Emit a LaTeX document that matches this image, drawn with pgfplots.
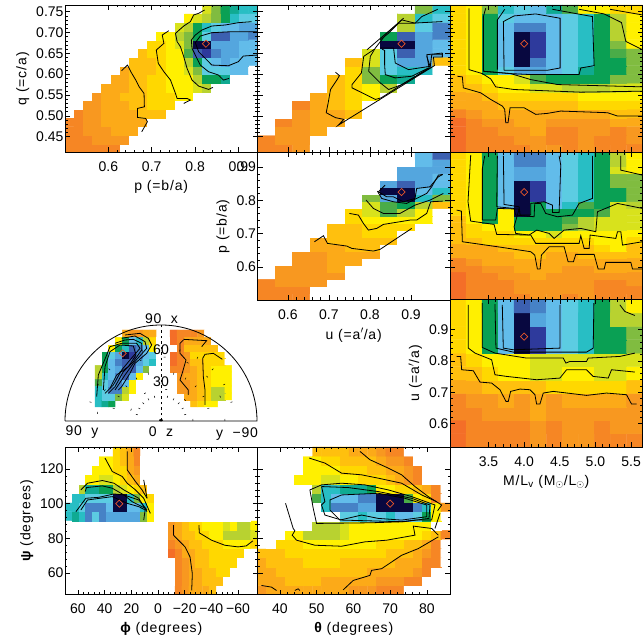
\documentclass[border=0pt]{standalone}
\usepackage{pgfplots}
\usepackage{fontspec}
\setmainfont{Liberation Sans}
\pgfplotsset{compat=1.18}
\newcommand\lbl{\fontsize{14}{15}\selectfont}
\newcommand\lab{\fontsize{14}{15}\selectfont\addfontfeature{LetterSpace=6}}
\pgfplotsset{
 colormap={sv}{rgb255=(255,255,255) rgb255=(8,8,64) rgb255=(46,58,156) rgb255=(60,96,176) rgb255=(70,130,198) rgb255=(84,166,222) rgb255=(98,188,234) rgb255=(92,204,226) rgb255=(40,190,196) rgb255=(16,170,146) rgb255=(10,160,84) rgb255=(74,172,72) rgb255=(128,188,64) rgb255=(184,210,48) rgb255=(216,226,28) rgb255=(255,240,0) rgb255=(255,216,0) rgb255=(255,192,14) rgb255=(252,170,24) rgb255=(248,152,32) rgb255=(246,134,36) rgb255=(244,110,40)},
 zm/.style n args={8}{x filter/.expression={#3+(x-#1)*(#4-#3)/(#2-#1)},y filter/.expression={#7+(y-#5)*(#8-#7)/(#6-#5)}},
 pan/.style={scale only axis,width=192.5pt,height=147.5pt,anchor=south west,enlargelimits=false,axis on top,
  colormap name=sv,point meta min=0,point meta max=21,tick align=inside,major tick length=5pt,minor tick length=2.5pt,
  axis line style={line width=.9pt},tick style={black,line width=.5pt},
  tick label style={font=\lbl},label style={font=\lab},minor x tick num=4,minor y tick num=4,
  xticklabel shift=6pt,yticklabel shift=-2pt,xlabel shift=2pt,
  /pgf/number format/.cd,fixed,fixed zerofill,precision=1,assume math mode=true},
 dia/.style={only marks,forget plot,mark=diamond,mark size=3.6pt,color={rgb,255:red,232;green,86;blue,42},mark options={xscale=1.33,line width=.7pt}}
}
\newcommand\heat[6]{%
 \def\tmpT{c\\}%
 \pgfplotsforeachungrouped \v in {#6}{\edef\tmpT{\unexpanded\expandafter{\tmpT}\v\noexpand\\}}%
 \edef\next{\noexpand\addplot[matrix plot*,mesh/cols=#1,point meta=explicit,forget plot] table[row sep=crcr,meta=c,x expr={#2+#3*mod(\noexpand\coordindex,#1)},y expr={#4+#5*floor((\noexpand\coordindex+0.5)/#1)}] {\unexpanded\expandafter{\tmpT}};}\next}
\newcommand\cont[1]{\addplot[cl,forget plot] coordinates {#1};}
\begin{document}
\begin{tikzpicture}
\useasboundingbox (0,0) rectangle (644pt,639pt);
% A
\begin{axis}[pan,at={(65pt,486.5pt)},xmin=0.5,xmax=0.944,ymin=0.412,ymax=0.766,xtick={0.6,0.7,0.8,0.9},ytick={0.45,0.5,0.55,0.6,0.65,0.7,0.75},
 yticklabel style={/pgf/number format/precision=2},xlabel={p (=b/a)},ylabel={q (=c/a)},
 cl/.style={black,line width=.8pt,zm={196}{778}{0.5}{0.944}{457}{15}{0.412}{0.766}}]
\heat{21}{0.5106}{0.02114}{0.4224}{0.02082}{
20,20,20,20,20,20,0,0,0,0,0,0,0,0,0,0,0,0,0,0,0,
20,20,20,19,19,19,19,0,0,0,0,0,0,0,0,0,0,0,0,0,0,
20,20,19,19,19,18,18,18,0,0,0,0,0,0,0,0,0,0,0,0,0,
20,20,19,19,18,18,18,18,18,0,0,0,0,0,0,0,0,0,0,0,0,
0,20,19,19,18,18,18,18,17,17,17,0,0,0,0,0,0,0,0,0,0,
0,0,19,19,18,18,18,17,17,16,16,16,0,0,0,0,0,0,0,0,0,
0,0,0,19,18,18,17,17,17,16,16,16,15,15,0,0,0,0,0,0,0,
0,0,0,0,18,18,18,17,17,16,16,15,15,15,14,13,0,0,0,0,0,
0,0,0,0,0,18,18,17,17,16,16,15,15,15,13,10,10,9,0,0,0,
0,0,0,0,0,0,18,17,17,17,16,15,15,14,12,7,7,7,6,6,0,
0,0,0,0,0,0,0,17,17,17,16,15,15,13,10,7,6,5,6,6,6,
0,0,0,0,0,0,0,0,17,16,16,15,15,11,3,2,4,5,5,6,6,
0,0,0,0,0,0,0,0,0,16,16,15,14,12,1,1,5,5,5,6,6,
0,0,0,0,0,0,0,0,0,0,15,15,13,12,10,7,3,3,5,5,4,
0,0,0,0,0,0,0,0,0,0,0,0,14,13,10,8,7,6,6,5,5,
0,0,0,0,0,0,0,0,0,0,0,0,0,15,14,13,12,10,8,7,7,
0,0,0,0,0,0,0,0,0,0,0,0,0,0,0,14,12,10,9,8,8}
\cont{(367,212)(385,195)(395,215)(410,240)(420,260)(435,280)(436,320)(415,325)(415,352)(440,355)(445,365)(428,395)}
\cont{(510,92)(490,105)(495,130)(472,150)(478,190)(495,215)(515,240)(530,280)(535,295)(565,295)(575,300)(555,310)}
\cont{(618,30)(600,40)(585,45)(575,65)(555,78)(530,100)(535,125)(545,140)(555,170)(565,205)(580,240)(600,258)(630,268)(643,262)}
\cont{(760,65)(720,68)(680,75)(640,78)(610,90)(590,105)(578,120)(580,145)(590,165)(605,195)(630,215)(660,225)(675,240)(692,235)}
\cont{(778,95)(700,95)(640,98)(605,108)(590,128)(600,155)(625,180)(640,195)(690,197)(720,185)(735,168)(778,165)}
\addplot[dia] coordinates {(0.825,0.673)};
\end{axis}
% B
\begin{axis}[pan,at={(257.5pt,486.5pt)},xmin=0.526,xmax=0.995,ymin=0.412,ymax=0.766,xtick={0.6,0.7,0.8,0.9},ytick={0.45,0.5,0.55,0.6,0.65,0.7,0.75},
 xticklabels={},yticklabels={},
 cl/.style={black,line width=.8pt,zm={5}{585}{0.526}{0.995}{460}{15}{0.412}{0.766}}]
\heat{11}{0.5473}{0.04264}{0.4224}{0.02082}{
20,20,19,0,0,0,0,0,0,0,0,
20,19,19,0,0,0,0,0,0,0,0,
0,19,19,18,0,0,0,0,0,0,0,
0,20,19,18,18,0,0,0,0,0,0,
0,0,19,18,18,17,0,0,0,0,0,
0,0,20,18,17,16,0,0,0,0,0,
0,0,0,18,17,16,15,0,0,0,0,
0,0,0,0,17,16,15,13,0,0,0,
0,0,0,0,17,16,12,10,9,0,0,
0,0,0,0,0,16,12,7,8,8,0,
0,0,0,0,0,17,14,7,5,5,17,
0,0,0,0,0,0,14,7,3,5,6,
0,0,0,0,0,0,0,1,1,5,6,
0,0,0,0,0,0,0,10,3,5,4,
0,0,0,0,0,0,0,0,13,7,4,
0,0,0,0,0,0,0,0,13,8,7,
0,0,0,0,0,0,0,0,0,12,8}
\cont{(240,218)(252,228)(245,240)(225,270)(218,310)(212,340)(240,355)(265,360)(248,378)(538,198)(535,172)(562,172)(562,160)}
\cont{(358,148)(325,170)(318,220)(290,255)(290,265)(320,280)(360,300)(378,295)(440,255)(525,205)(530,165)(562,165)}
\cont{(445,55)(395,100)(360,145)(345,170)(340,215)(375,250)(400,270)(440,255)(522,205)(515,165)(562,160)}
\cont{(335,150)(440,60)(480,70)(500,50)(548,28)}
\cont{(375,120)(400,100)(430,70)(470,70)(562,65)}
\cont{(375,145)(415,145)(420,190)(460,210)(525,200)(515,170)}
\cont{(380,148)(388,152)(388,195)(390,225)(420,235)(470,230)(520,205)}
\addplot[dia] coordinates {(0.877,0.673)};
\end{axis}
% C
\begin{axis}[pan,at={(450pt,486.5pt)},xmin=2.96,xmax=5.66,ymin=0.412,ymax=0.766,xtick={3.5,4,4.5,5,5.5},ytick={0.45,0.5,0.55,0.6,0.65,0.7,0.75},
 xticklabels={},yticklabels={},
 cl/.style={black,line width=.8pt,zm={8}{585}{2.96}{5.66}{460}{15}{0.412}{0.766}}]
\heat{12}{3.0725}{0.225}{0.4224}{0.02082}{21,20,20,20,20,19,19,20,19,20,20,20,
21,20,20,20,19,19,20,20,19,20,20,19,
21,20,20,19,19,18,20,20,19,19,20,19,
21,20,19,19,18,18,19,19,19,19,18,18,
20,19,18,18,18,18,18,18,18,18,17,17,
18,18,18,17,17,17,17,17,16,16,16,16,
18,18,17,16,16,16,16,16,15,15,15,15,
17,17,16,15,15,14,14,13,13,13,14,14,
17,16,15,15,14,11,10,10,10,10,12,12,
16,15,10,7,5,5,6,7,9,10,10,12,
16,15,10,6,1,4,6,7,8,10,10,12,
16,15,10,6,1,2,6,7,8,10,11,12,
16,15,10,6,1,2,6,7,8,10,12,15,
16,15,10,6,1,2,6,7,8,10,13,15,
16,15,10,6,4,4,6,7,8,10,13,15,
16,15,10,7,6,6,6,7,8,10,13,15,
16,15,12,8,7,6,9,11,15,15,16,16}
\cont{(65,25)(65,210)(105,222)(130,238)(145,262)(200,270)(400,278)(585,275)}
\cont{(108,215)(190,222)(250,240)(330,255)(585,262)}
\cont{(30,230)(45,232)(48,265)(100,280)(130,300)(165,320)(172,330)(175,370)(182,370)(188,325)(230,325)(265,345)(300,342)(340,335)(480,340)(510,350)(585,350)}
\cont{(115,25)(108,50)(108,215)(190,222)(250,225)(330,225)(395,225)(400,205)(440,198)(435,50)(315,28)}
\cont{(395,28)(470,42)(522,68)(535,125)(585,150)}
\cont{(488,28)(585,45)}
\cont{(150,210)(150,60)(172,28)}
\cont{(170,212)(168,65)(200,48)(265,42)(338,55)(338,205)(300,212)(170,212)}
\addplot[dia] coordinates {(4.0,0.673)};
\end{axis}
% D
\begin{axis}[pan,at={(257.5pt,339pt)},xmin=0.526,xmax=0.995,ymin=0.5,ymax=0.944,xtick={0.6,0.7,0.8,0.9},ytick={0.6,0.7,0.8,0.9},
 xlabel={u (=a$'$/a)},ylabel={p (=b/a)},
 cl/.style={black,line width=.8pt,zm={82}{660}{0.526}{0.995}{455}{12}{0.5}{0.944}}]
\heat{11}{0.5473}{0.04264}{0.5106}{0.02114}{
20,20,20,0,0,0,0,0,0,0,0,
20,20,20,0,0,0,0,0,0,0,0,
20,19,19,19,0,0,0,0,0,0,0,
0,19,19,19,19,0,0,0,0,0,0,
0,19,19,19,18,0,0,0,0,0,0,
0,0,19,19,18,18,0,0,0,0,0,
0,0,19,19,18,18,18,0,0,0,0,
0,0,0,18,18,17,17,0,0,0,0,
0,0,0,18,17,17,17,17,0,0,0,
0,0,0,0,17,17,16,16,0,0,0,
0,0,0,0,17,17,16,16,16,0,0,
0,0,0,0,0,16,15,15,15,15,0,
0,0,0,0,0,16,14,11,13,15,0,
0,0,0,0,0,0,14,11,10,13,17,
0,0,0,0,0,0,12,5,1,8,12,
0,0,0,0,0,0,0,1,1,6,8,
0,0,0,0,0,0,0,5,3,5,6,
0,0,0,0,0,0,0,0,5,5,6,
0,0,0,0,0,0,0,0,5,5,5,
0,0,0,0,0,0,0,0,0,6,5,
0,0,0,0,0,0,0,0,0,6,3}
\cont{(253,280)(280,262)(292,285)(350,293)(365,300)(430,308)(450,303)(545,240)}
\cont{(358,195)(385,200)(400,225)(415,245)(440,240)(460,228)(540,215)(560,215)(590,195)(602,160)(638,158)}
\cont{(408,155)(430,180)(460,195)(510,195)(555,170)(600,155)(640,135)}
\cont{(442,128)(455,150)(490,160)(530,165)(560,150)(590,135)(605,115)(625,80)(638,78)}
\cont{(465,110)(445,130)(470,145)(490,145)(520,160)(555,150)(560,120)(600,115)(625,85)(638,78)}
\addplot[dia] coordinates {(0.877,0.825)};
\end{axis}
% E
\begin{axis}[pan,at={(450pt,339pt)},xmin=2.96,xmax=5.66,ymin=0.5,ymax=0.944,xtick={3.5,4,4.5,5,5.5},ytick={0.6,0.7,0.8,0.9},
 xticklabels={},yticklabels={},
 cl/.style={black,line width=.8pt,zm={8}{585}{2.96}{5.66}{455}{12}{0.5}{0.944}}]
\heat{12}{3.0725}{0.225}{0.5106}{0.02114}{
21,20,20,20,20,19,19,20,19,20,20,20,
21,20,20,20,19,19,19,19,19,20,20,20,
21,20,20,20,19,19,19,19,19,20,20,19,
21,20,20,19,19,18,19,19,19,19,19,19,
20,20,19,19,18,18,18,19,19,18,18,18,
20,19,18,18,18,18,18,18,18,18,18,18,
18,18,18,18,17,17,18,18,17,17,17,17,
18,18,18,17,17,17,17,17,17,16,15,17,
17,17,16,16,16,16,16,16,16,15,15,16,
17,16,16,16,15,15,14,15,15,15,15,15,
17,16,15,15,10,10,10,12,13,14,14,14,
17,15,10,15,10,10,10,11,13,14,14,14,
16,15,10,15,1,10,10,10,10,11,14,14,
16,15,10,6,1,10,6,8,11,10,14,13,
16,15,10,6,1,2,6,7,8,10,10,12,
16,15,10,6,1,2,6,7,8,10,10,12,
16,15,10,6,1,2,6,7,8,10,12,12,
16,15,10,6,5,5,6,7,8,10,12,12,
16,15,10,6,5,5,6,7,8,10,14,15,
16,15,10,6,4,4,6,7,8,10,13,15,
16,15,10,6,4,4,6,7,8,10,13,15}
\cont{(28,185)(42,188)(45,280)(150,295)(250,310)(262,320)(270,362)(278,362)(282,320)(305,295)(350,295)(362,340)(378,340)(385,318)(440,318)(452,362)(470,362)(475,342)(550,342)(555,362)(585,362)}
\cont{(70,20)(62,160)(70,218)(140,228)(148,258)(250,260)(265,285)(395,285)(400,262)(410,300)(425,300)(428,260)(505,270)(510,250)(520,250)(525,290)(585,280)}
\cont{(112,22)(105,60)(105,215)(145,215)(150,180)(215,182)(200,235)(205,255)(245,260)(268,245)(305,255)(320,270)(350,245)(400,240)(445,250)(450,190)(510,165)(585,180)}
\cont{(520,22)(520,65)(585,80)}
\cont{(150,22)(148,175)(200,180)(205,200)(260,205)(262,165)(280,165)(295,195)(330,205)(375,200)(395,165)(435,150)(435,22)}
\cont{(168,22)(170,168)(215,175)(218,200)(250,200)(250,165)(290,160)(315,170)(315,192)(335,192)(340,50)(335,22)}
\addplot[dia] coordinates {(4.0,0.825)};
\end{axis}
% F
\begin{axis}[pan,at={(450pt,192pt)},xmin=2.96,xmax=5.66,ymin=0.526,ymax=0.995,xtick={3.5,4,4.5,5,5.5},ytick={0.6,0.7,0.8,0.9},
 xlabel={M/L$_{\mathrm{v}}$ (M$_{\odot}$/L$_{\odot}$)},ylabel={u (=a$'$/a)},
 cl/.style={black,line width=.8pt,zm={90}{668}{2.96}{5.66}{457}{14}{0.526}{0.995}}]
\heat{12}{3.0725}{0.225}{0.5473}{0.04264}{
21,20,20,20,20,19,20,19,19,20,20,20,
21,20,20,20,20,19,20,19,19,20,19,19,
20,20,19,19,19,18,19,19,19,19,19,19,
20,19,19,18,19,18,19,18,18,18,18,19,
18,18,17,17,17,17,16,16,16,16,16,17,
17,17,16,15,15,14,14,15,15,14,14,15,
17,16,15,15,15,14,14,14,14,14,14,14,
16,15,10,6,1,2,6,7,8,10,10,12,
16,15,10,6,1,2,6,7,8,10,10,12,
16,15,10,6,1,5,6,7,8,10,13,13,
16,15,10,6,3,4,6,7,8,10,13,15}
\cont{(110,185)(122,185)(125,225)(160,228)(180,262)(215,265)(240,285)(258,320)(265,320)(272,290)(300,283)(330,285)(345,300)(350,328)(360,328)(370,295)(400,290)(500,302)(560,295)(620,300)(635,328)(650,328)}
\cont{(145,30)(145,160)(165,175)(215,195)(225,240)(260,245)(350,255)(420,250)(440,225)(500,225)(520,245)(565,250)(575,225)(645,232)}
\cont{(187,25)(187,158)(225,175)(320,190)(430,190)(438,205)(450,200)(500,200)(505,190)(600,185)(645,175)}
\cont{(225,28)(228,160)(280,172)(500,172)(520,160)(522,25)}
\cont{(600,30)(615,50)(645,62)}
\cont{(247,30)(250,160)(280,165)(420,160)(420,30)}
\addplot[dia] coordinates {(4.0,0.877)};
\end{axis}
% G polar
\begin{axis}[scale only axis,width=192pt,height=96pt,anchor=south west,at={(65pt,218pt)},hide axis,clip=false,enlargelimits=false,
 xmin=-90,xmax=90,ymin=0,ymax=90,colormap name=sv,point meta min=0,point meta max=21,
 cl/.style={black,line width=.8pt,zm={333}{621}{0}{90}{333}{45}{0}{90}}]
\heat{20}{-58.67}{6.406}{16.41}{6.5625}{
8,9,10,0,0,0,0,0,0,0,0,0,0,0,17,16,15,15,0,0,
8,7,7,12,14,0,0,0,0,0,0,0,0,18,18,17,16,13,13,15,
8,7,4,4,13,15,0,0,0,0,0,0,19,19,18,17,16,13,13,15,
11,7,5,4,6,15,0,0,0,0,0,0,19,19,18,17,16,15,15,15,
13,8,6,4,3,6,15,0,0,0,0,0,19,18,18,17,16,15,15,15,
13,10,6,5,3,3,6,12,0,0,0,20,20,19,18,17,16,15,15,15,
0,10,6,4,3,3,5,7,8,0,0,21,20,19,17,17,16,16,16,0,
0,10,7,5,1,2,4,6,7,0,0,21,20,19,16,16,16,16,16,0,
0,0,15,10,8,3,4,6,15,0,0,0,20,17,17,17,17,17,0,0,
0,0,0,15,10,6,8,13,16,0,0,21,20,18,18,18,18,0,0,0,
0,0,0,0,18,19,19,18,18,0,0,21,20,20,20,19,0,0,0,0}
\cont{(225,75)(270,70)(295,85)(305,105)(290,130)(255,160)(240,190)(215,230)(205,240)}
\cont{(215,85)(255,78)(285,95)(290,115)(250,160)(225,195)(195,240)}
\cont{(195,100)(225,90)(250,88)(275,100)(275,120)(250,155)(220,185)(195,230)(175,250)}
\cont{(140,260)(145,195)(170,135)(180,110)(215,100)(260,100)(270,115)(240,150)(215,180)(190,225)(165,250)}
\cont{(160,240)(165,170)(180,125)(210,105)(250,108)(258,135)(235,170)(200,195)(180,235)}
\cont{(400,90)(390,100)(390,130)(408,150)(398,185)(390,210)(415,240)(415,255)}
\cont{(400,88)(470,92)(455,110)}
\cont{(517,148)(490,130)(465,133)(458,145)(460,200)(465,240)(465,285)}
\addplot[dia] coordinates {(-35.9,63.4)};
\end{axis}
\draw[line width=.8pt] (65pt,218pt) -- (257pt,218pt) arc[start angle=0,end angle=180,radius=96pt];
\draw[line width=.5pt,dash pattern=on 2.5pt off 3pt] (161pt,218pt) -- (161pt,314pt);
\foreach \a in {15,30,45,60,75,105,120,135,150,165}{\draw[line width=.5pt,dash pattern=on 2pt off 22pt] (161pt,218pt) -- ++(\a:94pt);}
\draw[line width=.5pt,dash pattern=on 2pt off 20pt] (193pt,218pt) arc[start angle=0,end angle=180,radius=32pt];
\draw[line width=.5pt,dash pattern=on 2pt off 22pt] (225pt,218pt) arc[start angle=0,end angle=180,radius=64pt];
\node[font=\lab] at (161.5pt,320pt) {90\ \ x};
\node[font=\lbl] at (161pt,289pt) {60};
\node[font=\lbl] at (161pt,257pt) {30};
\node[font=\lab] at (82pt,207pt) {90\ \ y};
\node[font=\lab] at (161pt,207pt) {0\ \ z};
\node[font=\lab] at (237pt,205pt) {y\ \ −90};
% H
\begin{axis}[pan,at={(65pt,44.5pt)},xmin=-74.6,xmax=69.7,ymin=47.6,ymax=132.7,x dir=reverse,xtick={60,40,20,0,-20,-40,-60},xticklabels={60,40,20,0,−20,−40,−60},ytick={60,80,100,120},
 yticklabel style={/pgf/number format/precision=0},
 xlabel={{\bfseries ϕ} (degrees)},ylabel={{\bfseries ψ} (degrees)},
 cl/.style={black,line width=.8pt,zm={197}{779}{69.7}{-74.6}{462}{22}{47.6}{132.7}}]
\heat{28}{67.12}{-5.154}{50.26}{5.319}{
0,0,0,0,0,0,0,0,0,0,0,0,0,0,0,0,20,19,18,18,18,17,0,0,0,0,0,0,
0,0,0,0,0,0,0,0,0,0,0,0,0,0,0,0,20,19,18,18,17,17,17,0,0,0,0,0,
0,0,0,0,0,0,0,0,0,0,0,0,0,0,0,0,20,19,18,18,17,17,16,16,0,0,0,0,
0,0,0,0,0,0,0,0,0,0,0,0,0,0,0,0,20,19,18,17,17,16,16,16,16,0,0,0,
0,0,0,0,0,0,0,0,0,0,0,0,0,0,0,21,20,18,18,17,17,16,16,16,16,16,0,0,
0,0,0,0,0,0,0,0,0,0,0,0,0,0,0,20,19,18,17,17,16,16,16,15,15,15,15,16,
0,0,0,0,0,0,0,0,0,0,0,0,0,0,0,19,18,17,17,16,16,15,15,13,13,13,13,14,
0,0,0,0,0,0,0,0,0,0,0,0,0,0,0,19,18,17,16,16,15,15,15,14,15,13,13,15,
8,9,8,4,7,4,5,5,5,5,5,12,15,0,0,0,0,0,0,0,0,0,0,0,0,0,0,0,
8,8,7,4,4,4,6,1,1,6,6,8,15,0,0,0,0,0,0,0,0,0,0,0,0,0,0,0,
0,8,8,7,7,7,7,1,1,8,12,15,16,0,0,0,0,0,0,0,0,0,0,0,0,0,0,0,
0,0,13,9,9,10,10,13,14,15,16,17,0,0,0,0,0,0,0,0,0,0,0,0,0,0,0,0,
0,0,0,15,15,14,14,15,16,17,18,0,0,0,0,0,0,0,0,0,0,0,0,0,0,0,0,0,
0,0,0,0,15,15,15,16,16,18,19,0,0,0,0,0,0,0,0,0,0,0,0,0,0,0,0,0,
0,0,0,0,0,15,15,16,17,18,20,0,0,0,0,0,0,0,0,0,0,0,0,0,0,0,0,0,
0,0,0,0,0,0,0,16,17,18,20,0,0,0,0,0,0,0,0,0,0,0,0,0,0,0,0,0}
\cont{(525,255)(525,285)(560,320)(575,350)(582,400)(580,450)}
\cont{(602,255)(603,278)(640,300)(680,315)(720,320)(745,317)(765,302)}
\cont{(318,55)(340,95)(370,110)(385,130)(410,150)(435,175)(455,220)}
\cont{(385,35)(385,90)(410,125)(430,150)(445,175)}
\cont{(435,120)(445,175)}
\cont{(245,150)(265,130)(310,122)(345,130)(375,150)(420,175)(445,215)}
\cont{(258,155)(262,143)(310,138)(340,145)(375,165)(420,180)(445,210)}
\cont{(230,215)(260,175)(300,172)(345,162)(375,165)(400,185)(440,205)(435,240)}
\cont{(245,210)(265,180)(340,170)(385,190)(420,200)(440,210)}
\addplot[dia] coordinates {(29,100)};
\end{axis}
% I
\begin{axis}[pan,at={(257.5pt,44.5pt)},xmin=33.9,xmax=86.3,ymin=47.6,ymax=132.7,xtick={40,50,60,70,80},ytick={60,80,100,120},
 yticklabels={},/pgf/number format/precision=0,
 xlabel={{\bfseries θ} (degrees)},
 cl/.style={black,line width=.8pt,zm={8}{585}{33.9}{86.3}{462}{22}{47.6}{132.7}}]
\heat{21}{35.15}{2.495}{50.26}{5.319}{
19,18,18,18,18,18,18,18,18,18,19,19,19,20,20,20,0,0,0,0,0,
18,18,18,17,17,17,17,18,18,18,18,18,18,19,19,19,20,20,0,0,0,
18,18,17,17,17,17,17,17,17,17,17,17,18,18,18,18,18,19,20,0,0,
18,17,17,17,17,16,16,16,16,17,17,17,17,17,17,18,18,18,20,20,0,
17,17,17,16,16,16,16,16,16,16,16,16,16,16,17,17,17,18,19,20,0,
0,0,16,16,16,15,15,15,15,15,15,15,15,16,16,16,17,17,18,20,0,
0,0,0,15,15,13,13,13,13,14,15,15,15,15,15,15,15,15,16,17,20,
0,0,0,0,0,0,13,13,13,14,15,15,15,15,15,15,15,15,15,0,0,
0,0,0,0,0,0,0,0,0,7,7,8,7,7,8,6,6,7,10,15,0,
0,0,0,0,0,0,0,8,4,4,4,5,5,1,1,1,1,4,8,15,19,
0,0,0,0,0,0,11,8,6,6,6,4,4,1,1,1,11,15,16,20,0,
0,0,0,0,0,0,13,8,8,9,9,9,10,15,15,16,16,17,18,20,0,
0,0,0,0,15,15,15,14,14,15,15,16,16,16,17,18,19,20,0,0,0,
0,0,0,0,0,15,15,15,15,16,16,16,17,17,18,18,19,20,0,0,0,
0,0,0,0,0,15,15,16,16,17,17,17,17,18,19,19,20,0,0,0,0,
0,0,0,0,0,0,17,17,17,17,18,18,18,19,20,20,0,0,0,0,0}
\cont{(20,435)(50,440)(65,450)}
\cont{(120,450)(130,445)(135,450)}
\cont{(265,448)(295,420)(345,405)(350,390)(380,385)(440,345)(490,325)(550,290)}
\cont{(92,190)(115,265)(120,272)(112,285)(125,300)(180,315)(260,318)(330,305)(395,300)(480,285)(475,258)(530,265)(550,285)}
\cont{(540,265)(555,220)}
\cont{(163,55)(210,70)(260,100)(320,105)(370,115)(440,130)(500,165)(545,185)}
\cont{(315,35)(345,60)(400,85)(440,105)(480,140)(520,170)(560,195)(548,212)}
\cont{(165,150)(200,135)(260,130)(330,135)(400,150)(470,170)(540,195)(530,240)(480,240)(440,245)(350,248)(185,250)(175,205)(165,150)}
\cont{(200,140)(280,143)(370,155)(470,175)(525,195)(522,235)(445,245)(260,240)(210,225)(200,195)(210,185)(200,140)}
\cont{(225,180)(260,165)(370,160)(450,175)(515,195)(515,230)(440,240)(370,235)(320,225)(255,240)(225,210)(225,180)}
\addplot[dia] coordinates {(70,100)};
\end{axis}
\end{tikzpicture}
\end{document}
